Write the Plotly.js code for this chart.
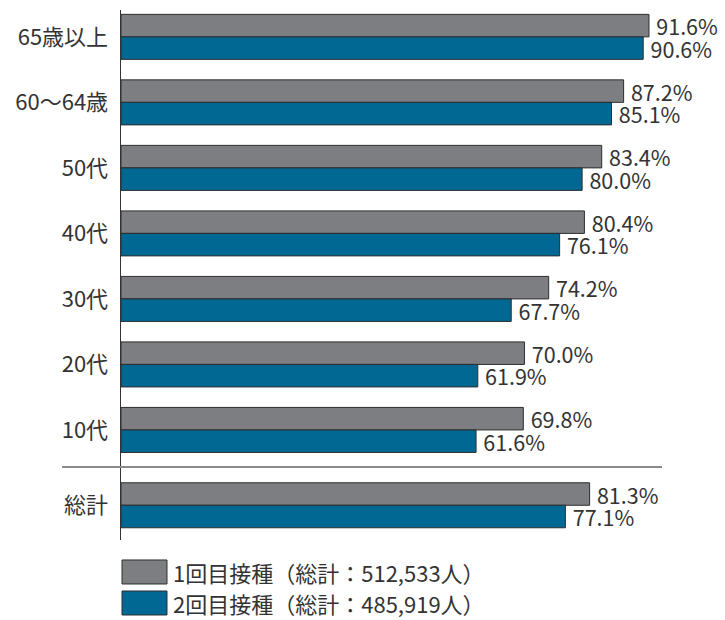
<!DOCTYPE html>
<html>
<head>
<meta charset="utf-8">
<script src="https://cdn.plot.ly/plotly-3.0.1.min.js"></script>
<style>html,body{margin:0;padding:0;background:#fff;}#chart{width:725px;height:620px;}</style>
</head>
<body>
<div id="chart"></div>
<script>
const categories = ["65歳以上", "60〜64歳", "50代", "40代", "30代", "20代", "10代", "総計"];
const dose1 = [91.6, 87.2, 83.4, 80.4, 74.2, 70.0, 69.8, 81.3];
const dose2 = [90.6, 85.1, 80.0, 76.1, 67.7, 61.9, 61.6, 77.1];
const seriesNames = ["1回目接種（総計：512,533人）", "2回目接種（総計：485,919人）"];
const colors = ["#7d7e82", "#006892"];

// y positions: age groups evenly spaced, total set apart below a separator
const ypos = categories.map((c, i) => i < categories.length - 1 ? i : i + 0.15);
const font = "'Noto Sans CJK JP', 'Noto Sans', sans-serif";

function trace(vals, idx) {
  return {
    type: "bar", orientation: "h",
    x: vals, y: ypos,
    name: seriesNames[idx],
    marker: {color: colors[idx], line: {color: "#2e2e2e", width: 1}},
    text: vals.map(v => "\u2009" + v.toFixed(1) + "%"),
    textposition: "outside",
    textfont: {family: font, size: 21.5, color: "#333"},
    constraintext: "none",
    cliponaxis: false,
    hoverinfo: "x+y"
  };
}

const data = [trace(dose1, 0), trace(dose2, 1)];

const shapes = [
  {type: "line", xref: "paper", yref: "y", x0: -0.109, x1: 1.0, y0: 6.565, y1: 6.565,
   line: {color: "#8a8a8a", width: 2}},
  {type: "rect", xref: "paper", yref: "paper", x0: 0.00185, x1: 0.085, y0: -0.083, y1: -0.0377,
   fillcolor: colors[0], line: {color: "#2e2e2e", width: 1}},
  {type: "rect", xref: "paper", yref: "paper", x0: 0.00185, x1: 0.085, y0: -0.1415, y1: -0.0962,
   fillcolor: colors[1], line: {color: "#2e2e2e", width: 1}}
];

const annotations = [
  {xref: "paper", yref: "paper", x: 0.093, y: -0.0604, xanchor: "left", yanchor: "middle",
   text: seriesNames[0], showarrow: false, font: {family: font, size: 22, color: "#333"}},
  {xref: "paper", yref: "paper", x: 0.093, y: -0.1189, xanchor: "left", yanchor: "middle",
   text: seriesNames[1], showarrow: false, font: {family: font, size: 22, color: "#333"}}
];

const layout = {
  width: 725, height: 620,
  margin: {l: 121, r: 63, t: 10, b: 80},
  paper_bgcolor: "#fff", plot_bgcolor: "#fff",
  barmode: "group", bargap: 0.313, bargroupgap: 0,
  showlegend: false,
  font: {family: font, color: "#333"},
  xaxis: {range: [0, 93.86], visible: false, showgrid: false, zeroline: false, fixedrange: true},
  yaxis: {
    range: [7.68, -0.41],
    tickvals: ypos, ticktext: categories,
    showline: true, linecolor: "#333", linewidth: 1.5,
    showgrid: false, zeroline: false, ticks: "",
    ticklabelstandoff: 7,
    tickfont: {family: font, size: 22, color: "#333"}
  },
  shapes: shapes,
  annotations: annotations
};

Plotly.newPlot("chart", data, layout, {displayModeBar: false, staticPlot: true});
</script>
</body>
</html>
